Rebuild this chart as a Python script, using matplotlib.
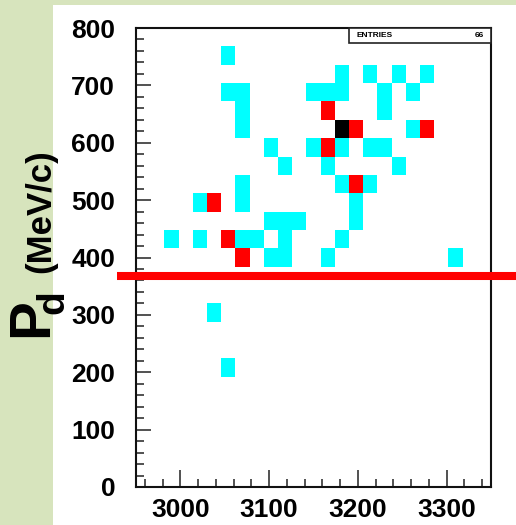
import numpy as np
import matplotlib
matplotlib.use("Agg")
import matplotlib.pyplot as plt
from matplotlib.colors import ListedColormap, BoundaryNorm
from matplotlib.patches import Rectangle
from matplotlib import transforms

# Filled cells of the 2-D histogram: bin centres and counts
mass = [3054,
        3182, 3214, 3246, 3278,
        3054, 3070, 3150, 3166, 3182, 3230, 3262,
        3070, 3166, 3230,
        3070, 3182, 3198, 3262, 3278,
        3102, 3150, 3166, 3182, 3214, 3230,
        3118, 3166, 3246,
        3070, 3182, 3198, 3214,
        3022, 3038, 3070, 3198,
        3102, 3118, 3134, 3198,
        2990, 3022, 3054, 3070, 3086, 3118, 3182,
        3070, 3102, 3118, 3166, 3310,
        3038,
        3054]
p_d = [752,
       720, 720, 720, 720,
       688, 688, 688, 688, 688, 688, 688,
       656, 656, 656,
       624, 624, 624, 624, 624,
       592, 592, 592, 592, 592, 592,
       560, 560, 560,
       528, 528, 528, 528,
       496, 496, 496, 496,
       464, 464, 464, 464,
       432, 432, 432, 432, 432, 432, 432,
       400, 400, 400, 400, 400,
       304,
       208]
counts = [1,
          1, 1, 1, 1,
          1, 1, 1, 1, 1, 1, 1,
          1, 2, 1,
          1, 3, 2, 1, 2,
          1, 1, 2, 1, 1, 1,
          1, 1, 1,
          1, 1, 2, 1,
          1, 2, 1, 1,
          1, 1, 1, 1,
          1, 1, 2, 1, 1, 1, 1,
          2, 1, 1, 1, 1,
          1,
          1]
entries = 66
cut_p_d = 368

x_ticks = [3000, 3100, 3200, 3300]
y_ticks = [0, 100, 200, 300, 400, 500, 600, 700, 800]

x_edges = np.arange(2950, 3351, 16)
y_edges = np.arange(0, 801, 32)

W, H = 516, 525
fig = plt.figure(figsize=(W / 100, H / 100), dpi=100)
fig.patch.set_facecolor("#d7e4bd")
fig.patches.append(Rectangle((53 / W, 0), 1 - 53 / W, 1 - 5 / H,
                             transform=fig.transFigure, facecolor="white",
                             edgecolor="none", zorder=-10))

ax = fig.add_axes([136 / W, 1 - 487 / H, (491 - 136) / W, (487 - 28) / H])
ax.set_zorder(1)

hist, _, _ = np.histogram2d(mass, p_d, bins=[x_edges, y_edges], weights=counts)
cmap = ListedColormap(["#00ffff", "#ff0000", "#000000"])
norm = BoundaryNorm([0.5, 1.5, 2.5, 3.5], cmap.N)
ax.pcolormesh(x_edges, y_edges, np.ma.masked_equal(hist.T, 0),
              cmap=cmap, norm=norm, edgecolors="none", antialiased=False)

ax.set_xlim(2950, 3350)
ax.set_ylim(0, 800)

font = "Liberation Sans"
ax.set_xticks(x_ticks)
ax.set_yticks(y_ticks)
ax.set_xticks(np.arange(2960, 3350, 20), minor=True)
ax.set_yticks(np.arange(0, 801, 20), minor=True)
ax.tick_params(which="both", direction="in", top=False, right=False,
               width=1.1, color="#222222")
ax.tick_params(axis="x", which="major", length=12, pad=8)
ax.tick_params(axis="y", which="major", length=11, pad=15)
ax.tick_params(which="minor", length=6)
for lab in ax.get_xticklabels() + ax.get_yticklabels():
    lab.set_fontfamily(font)
    lab.set_fontweight("bold")
    lab.set_fontsize(19)
for s in ax.spines.values():
    s.set_linewidth(1.5)
    s.set_color("#111111")

# statistics box in the upper right corner
bx0 = (349 - 136) / (491 - 136)
bh = 15 / (487 - 28)
ax.add_patch(Rectangle((bx0, 1 - bh), 1 - bx0, bh, transform=ax.transAxes,
                       facecolor="white", edgecolor="#222222", linewidth=1.2,
                       clip_on=False, zorder=5))
ax.text(bx0 + 0.02, 1 - bh / 2, "ENTRIES", transform=ax.transAxes,
        ha="left", va="center", fontsize=6, fontweight="bold",
        family=font, zorder=6)
ax.text(0.98, 1 - bh / 2, str(entries), transform=ax.transAxes,
        ha="right", va="center", fontsize=6, fontweight="bold",
        family=font, zorder=6)

# momentum cut line running past the frame
trans = transforms.blended_transform_factory(fig.transFigure, ax.transData)
ax.plot([117 / W, 1.0], [cut_p_d, cut_p_d], transform=trans, color="#ff0000",
        linewidth=5.8, solid_capstyle="butt", clip_on=False, zorder=7)

# y-axis title built from pieces: P, subscript d, unit
fig.text(32 / W, 1 - 318 / H, "P", rotation=90, ha="center", va="center",
         fontsize=42, fontweight="bold", family=font)
fig.text(53 / W, 1 - 302 / H, "d", rotation=90, ha="center", va="center",
         fontsize=28, fontweight="bold", family=font)
fig.text(41 / W, 1 - 211 / H, "(MeV/c)", rotation=90, ha="center",
         va="center", fontsize=25, fontweight="bold", family=font)

fig.savefig("out.png", dpi=100, facecolor=fig.get_facecolor())
